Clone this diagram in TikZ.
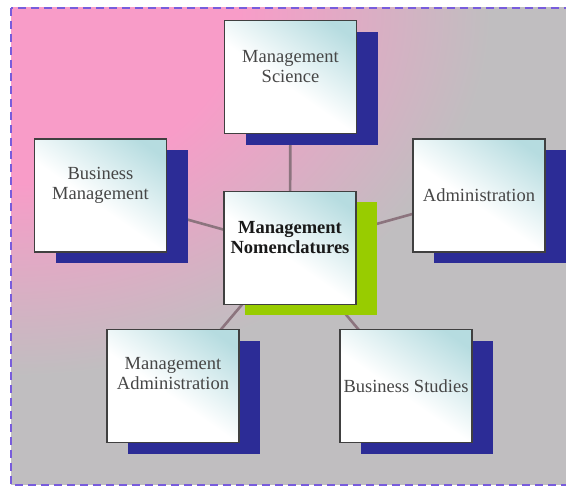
\documentclass[tikz,border=0pt]{standalone}
\usepackage{fontspec}
\setmainfont{Liberation Serif}
\usetikzlibrary{shadows}
\definecolor{pinkc}{RGB}{248,156,200}
\definecolor{grayc}{RGB}{192,190,192}
\definecolor{boxcyan}{RGB}{182,220,224}
\definecolor{navyc}{RGB}{44,44,150}
\definecolor{greenc}{RGB}{152,204,0}
\definecolor{linec}{RGB}{140,116,126}
\definecolor{borderc}{RGB}{120,92,220}
\definecolor{txtc}{RGB}{70,70,70}
\pgfdeclarehorizontalshading{boxshade}{100bp}{color(0bp)=(white); color(46bp)=(white); color(78bp)=(boxcyan); color(100bp)=(boxcyan)}
\pgfdeclareradialshading{bgrad}{\pgfpointorigin}{color(0bp)=(pinkc); color(9.5bp)=(pinkc); color(20bp)=(grayc); color(50bp)=(grayc)}
\pgfdeclarelayer{back}
\pgfdeclarelayer{lines}
\pgfsetlayers{back,lines,main}
\tikzset{
  box/.style={rectangle, draw=black!75, line width=1.3pt, minimum width=132pt, minimum height=113pt,
    inner sep=0pt, shading=boxshade, shading angle=55, align=center, text=txtc,
    font=\fontsize{18.5}{20}\selectfont},
  navyshadow/.style={drop shadow={shadow xshift=21pt, shadow yshift=-11.5pt, fill=navyc, opacity=1}},
  greenshadow/.style={drop shadow={shadow xshift=21pt, shadow yshift=-11pt, fill=greenc, opacity=1}},
  conn/.style={draw=linec, line width=2.6pt}
}
\begin{document}
\begin{tikzpicture}[x=1pt,y=-1pt]
\useasboundingbox (0,0) rectangle (566,489);
\node[box, navyshadow] (ms) at (290.5,77) {Management\\Science\\[2pt]};
\node[box, navyshadow] (bm) at (100.5,195.5) {Business\\Management\\[4pt]};
\node[box, navyshadow] (ad) at (479,195.5) {Administration};
\node[box, greenshadow, text=black!90, font=\fontsize{18.5}{20}\selectfont\bfseries] (c) at (290,248) {Management\\Nomenclatures\\[2pt]};
\node[box, navyshadow] (ma) at (173,386) {Management\\Administration\\[6pt]};
\node[box, navyshadow] (bs) at (406,386) {Business Studies};
\begin{pgfonlayer}{lines}
\draw[conn] (c.center) -- (ms.center);
\draw[conn] (c.center) -- (bm.center);
\draw[conn] (c.center) -- (ad.center);
\draw[conn] (c.center) -- (ma.center);
\draw[conn] (c.center) -- (bs.center);
\end{pgfonlayer}
\begin{pgfonlayer}{back}
\coordinate (bgtl) at (11,8);
\coordinate (bgbr) at (575,485);
\begin{scope}
\clip (bgtl) rectangle (bgbr);
\fill[grayc] (bgtl) rectangle (bgbr);
\shade[shading=bgrad] (bgtl) ellipse [x radius=600pt, y radius=460pt];
\end{scope}
\draw[borderc, line width=1.8pt, dash pattern=on 8pt off 5pt] (bgtl) rectangle (bgbr);
\end{pgfonlayer}
\end{tikzpicture}
\end{document}
